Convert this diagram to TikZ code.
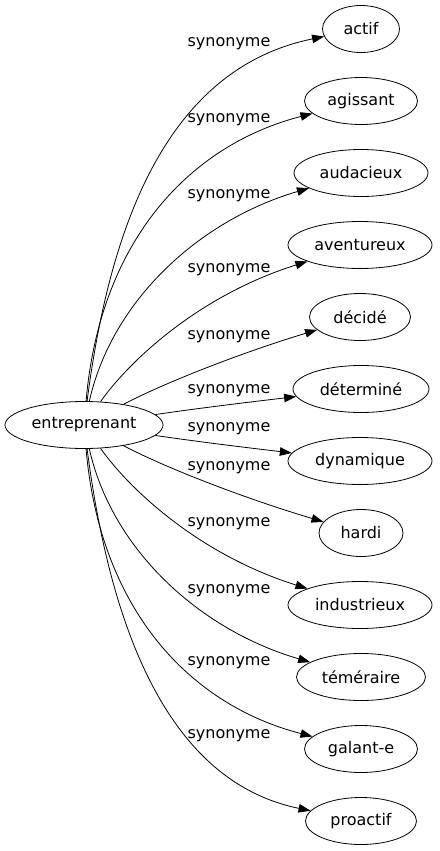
\documentclass[tikz,border=0pt]{standalone}
\usepackage{fontspec}
\setmainfont{DejaVu Sans}
\usetikzlibrary{shapes.geometric,arrows.meta}

\begin{document}
\begin{tikzpicture}[x=1pt,y=-1pt,
  word/.style={draw,ellipse,line width=0.8pt,inner sep=0pt,minimum height=47pt},
  rel/.style={inner sep=0pt},
  syn/.style={line width=0.8pt,-{Triangle[length=12pt,width=8.5pt]}}]
\useasboundingbox (0,0) rectangle (439,851);
{\fontsize{16}{19}\selectfont

% Drawing node entreprenant
\node [word,minimum width=158pt] (entreprenant) at (84,425) {entreprenant};%

% Drawing synonym nodes
\node [word,minimum width=77pt] (actif) at (361,29) {actif};%
\node [word,minimum width=113pt] (agissant) at (361,101) {agissant};%
\node [word,minimum width=134pt] (audacieux) at (361,173) {audacieux};%
\node [word,minimum width=144pt] (aventureux) at (360,245) {aventureux};%
\node [word,minimum width=101pt] (decide) at (360,317) {décidé};%
\node [word,minimum width=136pt] (determine) at (361,389) {déterminé};%
\node [word,minimum width=144pt] (dynamique) at (360,461) {dynamique};%
\node [word,minimum width=84pt] (hardi) at (361,533) {hardi};%
\node [word,minimum width=144pt] (industrieux) at (360,605) {industrieux};%
\node [word,minimum width=129pt] (temeraire) at (361,677) {téméraire};%
\node [word,minimum width=113pt] (galante) at (361,749) {galant-e};%
\node [word,minimum width=111pt] (proactif) at (361,821) {proactif};%

% Drawing edge labels
\node [rel] (la) at (229,44) {synonyme};%
\node [rel] (lb) at (229,120) {synonyme};%
\node [rel] (lc) at (229,196) {synonyme};%
\node [rel] (ld) at (229,270) {synonyme};%
\node [rel] (le) at (229,337) {synonyme};%
\node [rel] (lf) at (229,391) {synonyme};%
\node [rel] (lg) at (229,429) {synonyme};%
\node [rel] (lh) at (229,468) {synonyme};%
\node [rel] (li) at (229,524) {synonyme};%
\node [rel] (lj) at (229,591) {synonyme};%
\node [rel] (lk) at (229,663) {synonyme};%
\node [rel] (ll) at (229,736) {synonyme};%

% Drawing edges, upper half
\draw [syn] (entreprenant) .. controls (108,240) and (160,70) .. (actif);%
\draw [syn] (entreprenant) .. controls (100,240) and (190,145) .. (agissant);%
\draw [syn] (entreprenant) .. controls (112,300) and (200,220) .. (audacieux);%
\draw [syn] (entreprenant) .. controls (130,360) and (200,295) .. (aventureux);%
\draw [syn] (entreprenant) .. controls (170,380) and (250,350) .. (decide);%
\draw [syn] (entreprenant) .. controls (200,408) and (250,402) .. (determine);%

% Drawing edges, lower half
\draw [syn] (entreprenant) .. controls (200,442) and (250,448) .. (dynamique);%
\draw [syn] (entreprenant) .. controls (170,470) and (250,500) .. (hardi);%
\draw [syn] (entreprenant) .. controls (130,490) and (200,555) .. (industrieux);%
\draw [syn] (entreprenant) .. controls (112,550) and (200,630) .. (temeraire);%
\draw [syn] (entreprenant) .. controls (100,610) and (190,705) .. (galante);%
\draw [syn] (entreprenant) .. controls (108,610) and (160,780) .. (proactif);%
}
\end{tikzpicture}
\end{document}
